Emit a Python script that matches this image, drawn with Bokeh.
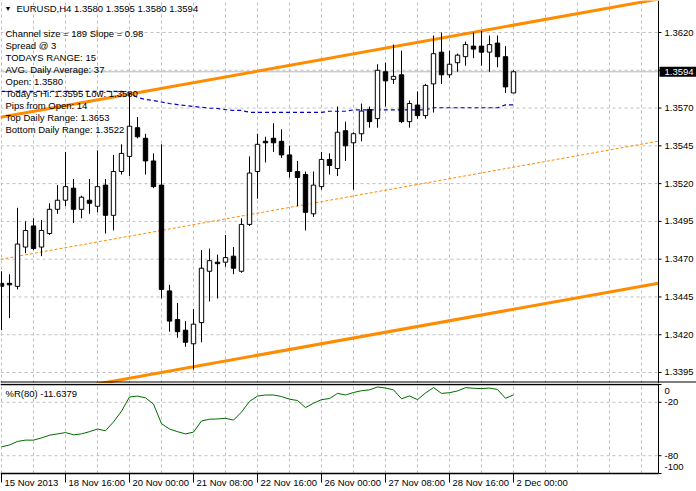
from bokeh.plotting import figure
from bokeh.models import Range1d, Span, Label, ColumnDataSource
from bokeh.core.properties import value
from bokeh.layouts import column
from bokeh.embed import file_html
from bokeh.resources import INLINE

# ---------------- data ----------------
symbol_title = "EURUSD,H4  1.3580 1.3595 1.3580 1.3594"
opens = [1.3454, 1.3454, 1.3452, 1.3478, 1.3492, 1.3478, 1.3487, 1.3503, 1.3509, 1.3517,
         1.3503, 1.3509, 1.3505, 1.3519, 1.3499, 1.3528, 1.3538, 1.3557, 1.3550, 1.3535,
         1.3519, 1.3449, 1.3430, 1.3423, 1.3414, 1.3428, 1.3462, 1.3468, 1.3468, 1.3472,
         1.3462, 1.3493, 1.3528, 1.3548, 1.3550, 1.3548, 1.3539, 1.3528, 1.3526, 1.3500,
         1.3518, 1.3536, 1.3530, 1.3555, 1.3547, 1.3553, 1.3569, 1.3563, 1.3594, 1.3589,
         1.3592, 1.3561, 1.3572, 1.3565, 1.3586, 1.3607, 1.3592, 1.3600, 1.3604, 1.3611,
         1.3611, 1.3607, 1.3613, 1.3604, 1.3580]
highs = [1.3462, 1.3460, 1.3504, 1.3495, 1.3497, 1.3496, 1.3507, 1.3519, 1.3541, 1.3523,
         1.3512, 1.3523, 1.3542, 1.3523, 1.3539, 1.3546, 1.3580, 1.3564, 1.3553, 1.3540,
         1.3546, 1.3453, 1.3441, 1.3429, 1.3437, 1.3476, 1.3477, 1.3473, 1.3486, 1.3478,
         1.3497, 1.3538, 1.3553, 1.3551, 1.3560, 1.3556, 1.3545, 1.3535, 1.3528, 1.3528,
         1.3541, 1.3540, 1.3571, 1.3561, 1.3554, 1.3573, 1.3571, 1.3599, 1.3600, 1.3612,
         1.3608, 1.3575, 1.3581, 1.3586, 1.3618, 1.3620, 1.3608, 1.3606, 1.3614, 1.3620,
         1.3621, 1.3618, 1.3618, 1.3611, 1.3595]
lows = [1.3423, 1.3431, 1.3450, 1.3474, 1.3476, 1.3472, 1.3486, 1.3500, 1.3505, 1.3494,
        1.3497, 1.3500, 1.3501, 1.3487, 1.3489, 1.3526, 1.3525, 1.3550, 1.3526, 1.3517,
        1.3444, 1.3422, 1.3418, 1.3412, 1.3397, 1.3415, 1.3442, 1.3444, 1.3465, 1.3460,
        1.3461, 1.3492, 1.3510, 1.3534, 1.3541, 1.3537, 1.3524, 1.3505, 1.3489, 1.3498,
        1.3516, 1.3526, 1.3525, 1.3535, 1.3516, 1.3548, 1.3557, 1.3557, 1.3571, 1.3586,
        1.3560, 1.3557, 1.3563, 1.3563, 1.3567, 1.3586, 1.3590, 1.3594, 1.3598, 1.3603,
        1.3598, 1.3594, 1.3597, 1.3580, 1.3580]
closes = [1.3452, 1.3453, 1.3480, 1.3489, 1.3477, 1.3489, 1.3503, 1.3509, 1.3518, 1.3503,
          1.3511, 1.3507, 1.3518, 1.3499, 1.3528, 1.3540, 1.3558, 1.3551, 1.3535, 1.3518,
          1.3450, 1.3429, 1.3422, 1.3415, 1.3427, 1.3464, 1.3469, 1.3467, 1.3471, 1.3464,
          1.3493, 1.3527, 1.3546, 1.3547, 1.3547, 1.3539, 1.3528, 1.3524, 1.3501, 1.3519,
          1.3536, 1.3532, 1.3554, 1.3545, 1.3553, 1.3568, 1.3561, 1.3595, 1.3588, 1.3591,
          1.3561, 1.3573, 1.3565, 1.3585, 1.3606, 1.3592, 1.3599, 1.3605, 1.3612, 1.3609,
          1.3607, 1.3612, 1.3604, 1.3584, 1.3594]
blue_ma = [1.3581, 1.3581, 1.3581, 1.3581, 1.3581, 1.3581, 1.3581, 1.3581, 1.3581, 1.3581,
           1.3581, 1.3581, 1.3581, 1.3581, 1.3581, 1.3581, 1.3580, 1.3577, 1.35757, 1.3575,
           1.3574, 1.3573, 1.35723, 1.35717, 1.3571, 1.35705, 1.3570, 1.35697, 1.3569, 1.35684,
           1.35684, 1.35672, 1.35672, 1.35672, 1.35672, 1.35672, 1.35672, 1.35672, 1.35672, 1.35672,
           1.35672, 1.35679, 1.35679, 1.35679, 1.35688, 1.35688, 1.35688, 1.35688, 1.35688, 1.35688,
           1.35688, 1.35688, 1.35688, 1.35688, 1.35702, 1.35702, 1.35702, 1.35702, 1.35702, 1.35702,
           1.35702, 1.35702, 1.35702, 1.35721, 1.35721]
wpr = [-70, -68, -64, -62.5, -62.5, -60, -57, -55.5, -54, -56.5,
       -55.5, -53, -50, -52, -42, -30, -14, -13, -15, -22,
       -44, -50, -53, -55.5, -53.5, -41, -39, -38.7, -38, -40,
       -31, -19, -13, -11.8, -11.8, -13.5, -16.5, -18, -26, -21,
       -17, -15.8, -10, -11.8, -9, -7, -6, -2.8, -4, -6,
       -16, -12.9, -17, -9.5, -3.5, -10, -9.2, -7.2, -3.5, -4.2,
       -4.6, -4, -5.6, -15.5, -11.6379]

# regression channel (upper line at bar 0, slope per bar, width)
channel_upper_bar0 = 1.35640
channel_slope = 0.0000951
channel_width = 0.0188

price_ticks = [1.3395, 1.3420, 1.3445, 1.3470, 1.3495, 1.3520, 1.3545, 1.3570, 1.3595, 1.3620]
grid_bars = list(range(0, 84, 4))
time_tick_bars = [0, 8, 16, 24, 32, 40, 48, 56, 64]
time_tick_labels = ["15 Nov 2013", "18 Nov 16:00", "20 Nov 00:00", "21 Nov 08:00", "22 Nov 16:00",
                    "26 Nov 00:00", "27 Nov 08:00", "28 Nov 16:00", "2 Dec 00:00"]
wpr_ticks = [0, -20, -80, -100]
wpr_grid = [-20, -80]
info_lines = ["Channel size = 189 Slope = 0.98", "Spread @ 3", "TODAYS RANGE: 15",
              "AVG. Daily Average: 37", "Open: 1.3580", "Today's Hi: 1.3595 Low: 1.3580",
              "Pips from Open: 14", "Top Daily Range: 1.3653", "Bottom Daily Range: 1.3522"]
wpr_title = "%R(80) -11.6379"

# ---------------- layout constants ----------------
FONT = "Liberation Sans"
FS = "9.5px"
GRID_C = "#c0c0c0"
ORANGE = "#ff8c00"
W = 696
BAR_PX = 8.0
X0 = -1.0 / BAR_PX                 # bar 0 centred at pixel 1
XA = X0 + 658 / BAR_PX             # price axis line at pixel 658
X1 = X0 + W / BAR_PX
PX = 15111.0                       # pixels per price unit
P_TOP = 1.3620 + 32 / PX
H1 = 383
P_BOT = 1.3620 - (H1 - 32) / PX
def px_price(d):                   # price distance of d pixels
    return d / PX

n = len(opens)
idx = list(range(n))
bull = [c >= o for o, c in zip(opens, closes)]
src = ColumnDataSource(dict(
    x=idx, hi=highs, lo=lows,
    top=[max(o, c) for o, c in zip(opens, closes)],
    bot=[min(o, c) for o, c in zip(opens, closes)],
    fill=["white" if b else "black" for b in bull],
))

# ---------------- main price panel ----------------
p = figure(frame_width=W, frame_height=H1, x_range=Range1d(X0, X1),
           y_range=Range1d(P_BOT, P_TOP), x_axis_location=None, y_axis_location=None,
           output_backend="svg", toolbar_location=None,
           min_border_left=0, min_border_top=0, min_border_bottom=0, min_border_right=0,
           background_fill_color="white", border_fill_color="white", outline_line_color=None)
p.grid.visible = False

# grid
p.segment(x0=[X0] * len(price_ticks), x1=[XA] * len(price_ticks), y0=price_ticks, y1=price_ticks,
          line_color=GRID_C, line_dash="3 3", line_width=1)
p.segment(x0=grid_bars, x1=grid_bars, y0=[P_BOT] * len(grid_bars), y1=[P_TOP] * len(grid_bars),
          line_color=GRID_C, line_dash="3 3", line_width=1)

# bid line
p.segment(x0=[X0], x1=[XA], y0=[closes[-1]], y1=[closes[-1]], line_color="#b8b8b8", line_width=1)

# channel lines
ch_x = [X0, XA]
upper = [channel_upper_bar0 + channel_slope * b for b in ch_x]
lower = [u - channel_width for u in upper]
middle = [u - channel_width / 2 for u in upper]
p.line(ch_x, middle, line_color=ORANGE, line_width=1, line_dash="3 2")
p.line(ch_x, upper, line_color=ORANGE, line_width=3)
p.line(ch_x, lower, line_color=ORANGE, line_width=3)

# blue dashed average
p.line(idx, blue_ma, line_color="#0000c8", line_width=1.2, line_dash="4 3")

# candles
p.segment(x0="x", y0="lo", x1="x", y1="hi", source=src, line_color="black", line_width=1)
p.vbar(x="x", width=0.55, top="top", bottom="bot", source=src,
       fill_color="fill", line_color="black", line_width=1)

# price axis (drawn inside the canvas)
p.add_layout(Span(location=XA, dimension="height", line_color="black", line_width=1))
p.segment(x0=[XA] * len(price_ticks), x1=[XA + 3 / BAR_PX] * len(price_ticks),
          y0=price_ticks, y1=price_ticks, line_color="black", line_width=1)
p.text(x=[XA + 6 / BAR_PX] * len(price_ticks), y=price_ticks,
       text=[f"{t:.4f}" for t in price_ticks], text_font=value(FONT), text_font_size=FS,
       text_baseline="middle", text_align="left", text_color="black")

# current price box
p.quad(left=[XA + 1 / BAR_PX], right=[X1], bottom=[closes[-1] - px_price(5)],
       top=[closes[-1] + px_price(5)], fill_color="black", line_color=None)
p.text(x=[XA + 6 / BAR_PX], y=[closes[-1]], text=[f"{closes[-1]:.4f}"], text_font=value(FONT),
       text_font_size=FS, text_baseline="middle", text_align="left", text_color="white")

# bottom border of the price panel
p.add_layout(Span(location=1.3620 - (381.5 - 32) / PX, dimension="width",
                  line_color="black", line_width=1))

# texts
p.add_layout(Label(x=4, y=H1 - 8, x_units="screen", y_units="screen", text="\u25bc",
                   text_font=FONT, text_font_size="7px", text_baseline="middle", text_color="black"))
p.add_layout(Label(x=16, y=H1 - 8, x_units="screen", y_units="screen", text=symbol_title,
                   text_font=FONT, text_font_size=FS, text_baseline="middle", text_color="black"))
for k, line in enumerate(info_lines):
    yc = 33.3 + 12.0 * k
    p.add_layout(Label(x=5, y=H1 - yc, x_units="screen", y_units="screen", text=line,
                       text_font=FONT, text_font_size=FS, text_baseline="middle",
                       text_color="black"))

# ---------------- %R panel ----------------
H2 = 108
RPX = 0.89                       # pixels per %R unit, 0 at 1 px below the panel top
R_TOP = 1 / RPX
R_BOT = -(H2 - 1) / RPX
q = figure(frame_width=W, frame_height=H2, x_range=p.x_range, y_range=Range1d(R_BOT, R_TOP),
           x_axis_location=None, y_axis_location=None, output_backend="svg",
           toolbar_location=None, min_border_left=0, min_border_top=0, min_border_bottom=0,
           min_border_right=0, background_fill_color="white", border_fill_color="white",
           outline_line_color=None)
q.grid.visible = False

q.segment(x0=[X0] * len(wpr_grid), x1=[XA] * len(wpr_grid), y0=wpr_grid, y1=wpr_grid,
          line_color=GRID_C, line_dash="3 3", line_width=1)
q.segment(x0=grid_bars, x1=grid_bars, y0=[-100] * len(grid_bars), y1=[0] * len(grid_bars),
          line_color=GRID_C, line_dash="3 3", line_width=1)

q.line(idx, wpr, line_color="#006a00", line_width=1)

# borders / axes
q.segment(x0=[X0, X0], x1=[XA, XA], y0=[0, -100], y1=[0, -100], line_color="black", line_width=1.3)
q.segment(x0=[XA], x1=[XA], y0=[-100], y1=[R_TOP], line_color="black", line_width=1)
q.segment(x0=[XA] * len(wpr_ticks), x1=[XA + 3 / BAR_PX] * len(wpr_ticks),
          y0=wpr_ticks, y1=wpr_ticks, line_color="black", line_width=1)
wpr_label_y = [max(min(t, -7.5), -92.5) for t in wpr_ticks]
q.text(x=[XA + 6 / BAR_PX] * len(wpr_ticks), y=wpr_label_y, text=[f"{t:g}" for t in wpr_ticks],
       text_font=value(FONT), text_font_size=FS, text_baseline="middle", text_align="left",
       text_color="black")

# time axis
q.segment(x0=time_tick_bars, x1=time_tick_bars, y0=[-100] * len(time_tick_bars),
          y1=[-100 - 9 / RPX] * len(time_tick_bars), line_color="black", line_width=1)
q.text(x=time_tick_bars, y=[-100 - 8.5 / RPX] * len(time_tick_bars), text=time_tick_labels,
       x_offset=3, text_font=value(FONT), text_font_size=FS, text_baseline="middle",
       text_align="left", text_color="black")

q.add_layout(Label(x=5, y=H2 - 10, x_units="screen", y_units="screen", text=wpr_title,
                   text_font=FONT, text_font_size=FS, text_baseline="middle", text_color="black"))

layout = column(p, q, spacing=0)
open("out.html", "w").write(file_html(layout, INLINE))
